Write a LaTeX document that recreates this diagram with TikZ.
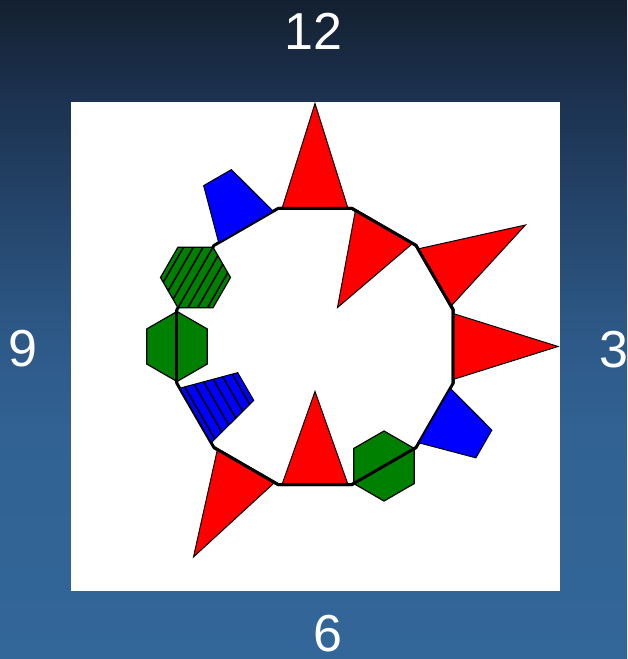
\documentclass[tikz,border=0pt]{standalone}
\usepackage{fontspec}
\setmainfont{Liberation Sans}
\usetikzlibrary{calc}
\definecolor{bgb}{RGB}{51,102,153}
\definecolor{bgbb}{RGB}{49,98,147}
\definecolor{bgm}{RGB}{45,88,134}
\definecolor{bgu}{RGB}{28,50,80}
\definecolor{bgt}{RGB}{20,32,48}
\definecolor{hexgreen}{RGB}{0,128,0}
\pgfdeclareverticalshading{bgshade}{100bp}{color(0bp)=(bgb); color(25bp)=(bgb); color(42.5bp)=(bgbb); color(50bp)=(bgm); color(67.5bp)=(bgu); color(75bp)=(bgt); color(100bp)=(bgt)}
\tikzset{
  redtri/.style={fill=red, draw=black, line width=1pt},
  bluetrap/.style={fill=blue, draw=black, line width=1pt},
  greenhex/.style={fill=hexgreen, draw=black, line width=1.2pt},
  ring/.style={draw=black, line width=3pt},
  hatchline/.style={draw=black, line width=1.6pt},
  lbl/.style={text=white, font=\fontsize{52}{60}\selectfont, anchor=base, inner sep=0pt}
}
\newcommand{\OutTri}[1]{\begin{scope}[shift={(c)},rotate=#1-90]
  \filldraw[redtri] (-33,138) -- (0,243) -- (33,138) -- cycle;\end{scope}}
\newcommand{\InTri}[1]{\begin{scope}[shift={(c)},rotate=#1-90]
  \filldraw[redtri] (-33,138) -- (0,45) -- (33,138) -- cycle;\end{scope}}
\newcommand{\OutTrap}[1]{\begin{scope}[shift={(c)},rotate=#1-90]
  \filldraw[bluetrap] (-31.5,138) -- (-16,195) -- (16,195) -- (31.5,138) -- cycle;\end{scope}}
\newcommand{\InTrapHatch}[1]{\begin{scope}[shift={(c)},rotate=#1-90]
  \fill[blue] (-31.5,138) -- (-16,80) -- (16,80) -- (31.5,138) -- cycle;
  \begin{scope}
    \clip (-31.5,138) -- (-16,80) -- (16,80) -- (31.5,138) -- cycle;
    \foreach \k in {-6,...,0} \draw[hatchline] (-40,133+9.5*\k) -- (40,133+9.5*\k);
  \end{scope}
  \draw[black, line width=1pt] (-31.5,138) -- (-16,80) -- (16,80) -- (31.5,138) -- cycle;\end{scope}}
\newcommand{\PlainHex}[1]{\begin{scope}[shift={(c)},rotate=#1-90]
  \filldraw[greenhex] (35,138) -- ++(120:35) -- ++(180:35) -- ++(240:35) -- ++(300:35) -- ++(0:35) -- cycle;\end{scope}}
\newcommand{\HatchHex}[1]{\begin{scope}[shift={(c)},rotate=#1-90]
  \fill[hexgreen] (35,138) -- ++(120:35) -- ++(180:35) -- ++(240:35) -- ++(300:35) -- ++(0:35) -- cycle;
  \begin{scope}
    \clip (35,138) -- ++(120:35) -- ++(180:35) -- ++(240:35) -- ++(300:35) -- ++(0:35) -- cycle;
    \foreach \k in {-4,...,4} \draw[hatchline] (-40,138+8.5*\k) -- (40,138+8.5*\k);
  \end{scope}
  \draw[black, line width=1.2pt] (35,138) -- ++(120:35) -- ++(180:35) -- ++(240:35) -- ++(300:35) -- ++(0:35) -- cycle;\end{scope}}
\begin{document}
\begin{tikzpicture}[x=1pt,y=1pt]
\useasboundingbox (0,0) rectangle (627,659);
\shade[shading=bgshade] (0,0) rectangle (627,659);
\fill[white] (71,68) rectangle (560,557);
\node[lbl] (l12) at (313.5,609) {12};
\node[lbl] (l9) at (23,292) {9};
\node[lbl] (l3) at (613.5,291) {3};
\node[lbl] (l6) at (327.5,8) {6};
\coordinate (c) at (315,312.5);
\foreach \k in {0,...,11} \coordinate (v\k) at ($(c)+(15+30*\k:142.9)$);
\draw[ring] (v0) -- (v1) -- (v2) -- (v3) -- (v4) -- (v5) -- (v6) -- (v7) -- (v8) -- (v9) -- (v10) -- (v11) -- cycle;
\OutTri{90}
\InTri{60}
\OutTri{30}
\OutTri{0}
\OutTrap{-30}
\PlainHex{-60}
\InTri{-90}
\OutTri{-120}
\InTrapHatch{-150}
\PlainHex{180}
\HatchHex{150}
\OutTrap{120}
\draw[ring] (v11) -- (v0) -- (v1) -- (v2) -- (v3);
\draw[ring] (v5) -- (v6);
\draw[ring] (v7) -- (v8) -- (v9) -- (v10);
\end{tikzpicture}
\end{document}
